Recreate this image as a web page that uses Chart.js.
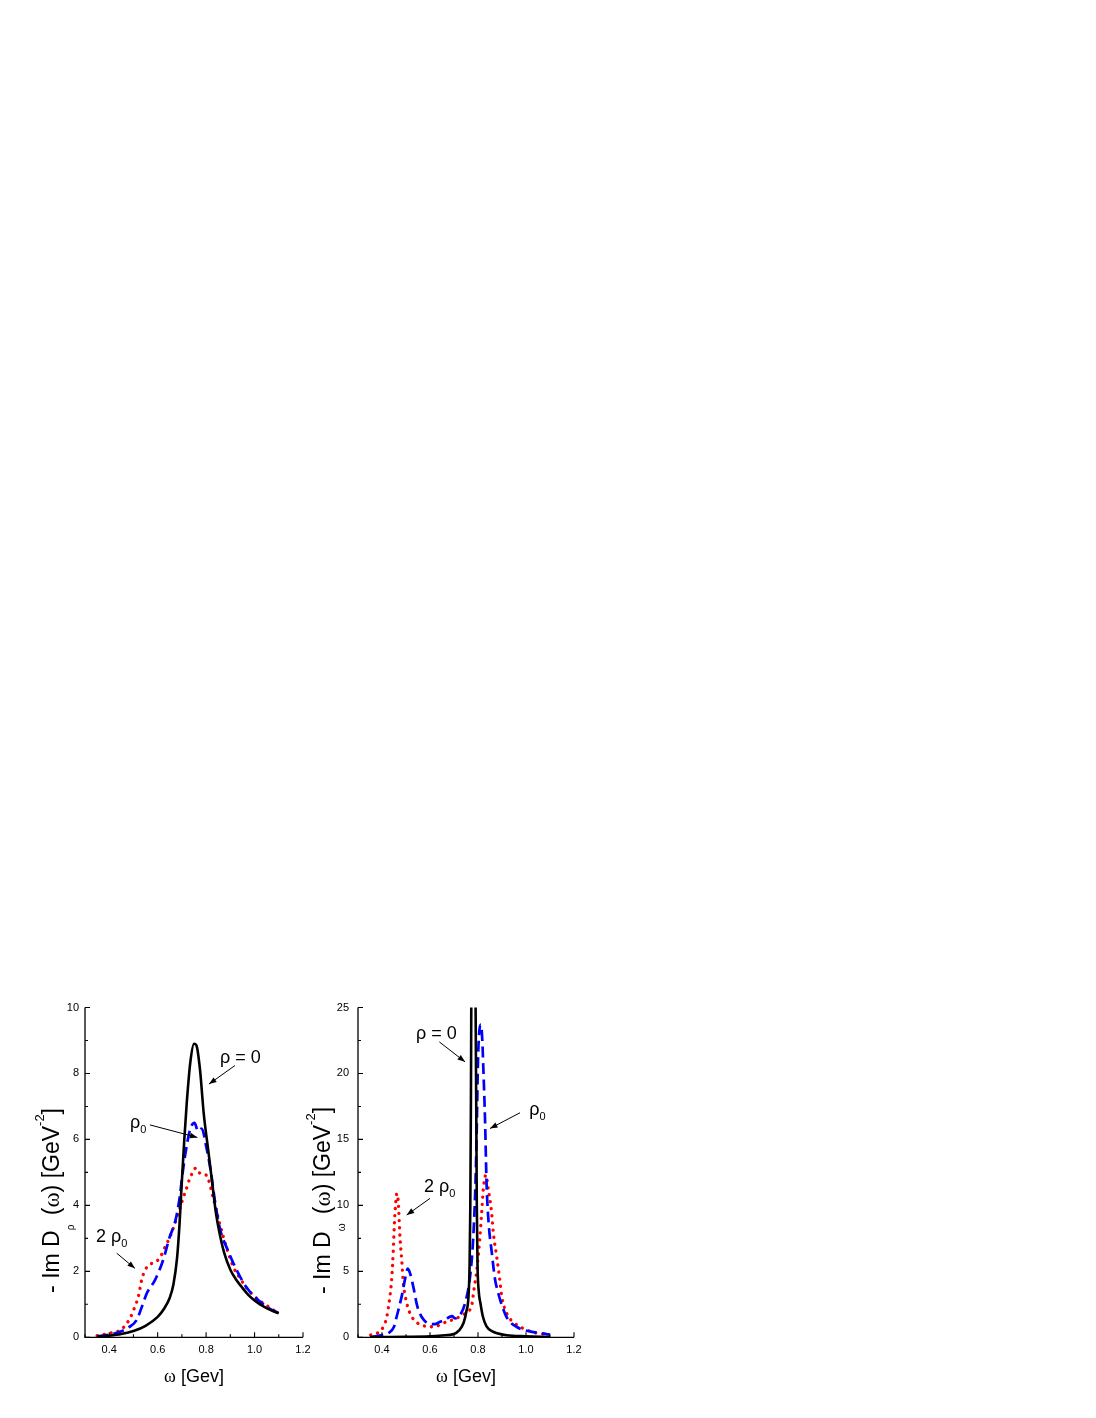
<!DOCTYPE html>
<html><head><meta charset="utf-8">
<script src="https://cdn.jsdelivr.net/npm/chart.js@4.4.1/dist/chart.umd.min.js"></script>
<style>
html,body{margin:0;padding:0;background:#fff;}
body{width:1096px;height:1418px;position:relative;overflow:hidden;}
.panel{position:absolute;}
</style></head><body>
<div class="panel" style="left:0px;top:980px;width:320px;height:430px"><canvas id="c1"></canvas></div>
<div class="panel" style="left:290px;top:980px;width:310px;height:430px"><canvas id="c2"></canvas></div>
<script>
// ---------- tick values ----------
const X_TICKS = [0.4, 0.6, 0.8, 1.0, 1.2];
const X_MINOR = [0.3, 0.5, 0.7, 0.9, 1.1];
const L_Y_TICKS = [0, 2, 4, 6, 8, 10];
const L_Y_MINOR = [1, 3, 5, 7, 9];
const R_Y_TICKS = [0, 5, 10, 15, 20, 25];
const R_Y_MINOR = [2.5, 7.5, 12.5, 17.5, 22.5];

// ---------- left panel: -Im D_rho ----------
const L_vac_w = [0.35,0.40,0.45,0.50,0.55,0.60,0.625,0.65,0.665,0.68,0.69,0.70,0.71,0.72,0.735,0.75,0.76,0.775,0.79,0.81,0.825,0.84,0.857,0.875,0.90,0.925,0.95,0.975,1.00,1.04,1.08,1.10];
const L_vac_v = [0.02,0.05,0.10,0.19,0.35,0.62,0.85,1.2,1.6,2.4,3.4,4.75,6.0,7.1,8.35,8.9,8.85,8.1,6.8,5.6,4.7,3.8,3.1,2.55,2.05,1.74,1.5,1.28,1.12,0.92,0.78,0.73];

const L_rho0_w = [0.35,0.40,0.445,0.48,0.513,0.535,0.555,0.59,0.623,0.65,0.672,0.692,0.70,0.713,0.734,0.752,0.767,0.782,0.80,0.82,0.835,0.857,0.892,0.926,0.968,1.023,1.06,1.10];
const L_rho0_v = [0.03,0.08,0.17,0.3,0.52,0.93,1.33,1.75,2.35,3.05,3.5,4.3,4.8,5.5,6.3,6.5,6.25,6.33,5.8,5.0,4.2,3.3,2.6,2.04,1.5,1.08,0.88,0.74];

const L_2rho0_w = [0.35,0.40,0.45,0.486,0.506,0.52,0.534,0.548,0.565,0.607,0.63,0.654,0.685,0.70,0.717,0.733,0.758,0.778,0.80,0.83,0.85,0.871,0.892,0.912,0.94,0.968,1.009,1.057,1.10];
const L_2rho0_v = [0.05,0.12,0.24,0.58,0.93,1.23,1.74,2.04,2.19,2.39,2.73,3.1,3.76,4.11,4.47,4.82,5.13,4.95,4.92,4.21,3.61,3.05,2.55,2.14,1.79,1.49,1.18,0.93,0.72];

// ---------- right panel: -Im D_omega ----------
const R_vac_w = [0.35,0.40,0.50,0.60,0.65,0.70,0.72,0.74,0.752,0.76,0.765,0.768,0.7705,0.772,0.776,0.781,0.786,0.790,0.7925,0.795,0.798,0.803,0.81,0.82,0.835,0.86,0.88,0.92,1.00,1.10];
const R_vac_v = [0.01,0.02,0.04,0.08,0.14,0.25,0.5,1.1,2.0,3.0,5.5,10,18,25,38,45,38,25,18,10,5.5,3.5,2.6,1.6,0.85,0.45,0.3,0.15,0.08,0.03];

const R_rho0_w = [0.36,0.40,0.426,0.45,0.461,0.482,0.497,0.507,0.517,0.532,0.545,0.558,0.575,0.593,0.62,0.642,0.665,0.683,0.692,0.704,0.725,0.746,0.767,0.78,0.79,0.795,0.80,0.806,0.812,0.818,0.822,0.829,0.836,0.845,0.857,0.87,0.885,0.90,0.92,0.96,1.02,1.085,1.10];
const R_rho0_v = [0.03,0.17,0.3,0.8,1.56,3.1,4.5,5.2,4.85,3.7,2.5,1.8,1.3,1.06,1.0,1.18,1.35,1.56,1.6,1.44,1.69,2.58,4.6,7.5,12,16,21,23.3,23.7,22.5,20.5,16.7,11.5,8.5,6.5,4.5,3.3,2.4,1.5,0.8,0.43,0.25,0.2];

const R_2rho0_w = [0.353,0.399,0.42,0.433,0.44,0.447,0.451,0.458,0.462,0.468,0.475,0.482,0.489,0.503,0.524,0.565,0.614,0.67,0.711,0.746,0.774,0.783,0.795,0.808,0.815,0.822,0.833,0.843,0.857,0.864,0.878,0.889,0.899,0.92,0.954,1.003,1.051,1.093];
const R_2rho0_v = [0.17,0.6,1.56,3.1,4.34,6.6,8.4,10.4,10.9,10.2,7.6,5.9,4.1,2.6,1.56,0.93,0.8,1.18,1.44,1.82,2.45,3.6,5.1,7.6,9.4,11.2,12.3,11.2,9.4,7.9,6.1,4.6,3.1,1.8,1.06,0.55,0.3,0.23];

const SANS = "'Liberation Sans', Arial, sans-serif";
const SERIF = "'Liberation Serif', 'Times New Roman', serif";

function pts(w, v) { return w.map((x, i) => ({x: x, y: v[i]})); }

function drawRich(ctx, parts, x, y) {
  let cx = x;
  parts.forEach(p => {
    ctx.font = (p.size) + 'px ' + (p.serif ? SERIF : SANS);
    ctx.fillText(p.t, cx, y + (p.dy || 0));
    cx += ctx.measureText(p.t).width + (p.gap || 0);
  });
}
function richWidth(ctx, parts) {
  let w = 0;
  parts.forEach(p => { ctx.font = (p.size) + 'px ' + (p.serif ? SERIF : SANS); w += ctx.measureText(p.t).width + (p.gap || 0); });
  return w;
}
function arrow(ctx, x1, y1, x2, y2) {
  ctx.beginPath(); ctx.lineWidth = 1; ctx.moveTo(x1, y1); ctx.lineTo(x2, y2); ctx.stroke();
  const ang = Math.atan2(y2 - y1, x2 - x1), L = 7.5, H = 2.8;
  ctx.beginPath();
  ctx.moveTo(x2, y2);
  ctx.lineTo(x2 - L * Math.cos(ang) + H * Math.sin(ang), y2 - L * Math.sin(ang) - H * Math.cos(ang));
  ctx.lineTo(x2 - L * Math.cos(ang) - H * Math.sin(ang), y2 - L * Math.sin(ang) + H * Math.cos(ang));
  ctx.closePath(); ctx.fill();
}

const decor = {
  id: 'decor',
  afterDraw(chart, args, o) {
    const ctx = chart.ctx, a = chart.chartArea, xs = chart.scales.x, ys = chart.scales.y;
    ctx.save();
    ctx.strokeStyle = '#000'; ctx.fillStyle = '#000';
    ctx.lineWidth = 1.3;
    ctx.beginPath();
    ctx.moveTo(a.left, a.top); ctx.lineTo(a.left, a.bottom); ctx.lineTo(a.right, a.bottom);
    ctx.stroke();
    ctx.lineWidth = 1.1;
    ctx.beginPath();
    o.xMajor.forEach(v => { const p = xs.getPixelForValue(v); ctx.moveTo(p, a.bottom); ctx.lineTo(p, a.bottom - 5); });
    o.xMinor.forEach(v => { const p = xs.getPixelForValue(v); ctx.moveTo(p, a.bottom); ctx.lineTo(p, a.bottom - 3); });
    o.yMajor.forEach(v => { const p = ys.getPixelForValue(v); ctx.moveTo(a.left, p); ctx.lineTo(a.left + 5, p); });
    o.yMinor.forEach(v => { const p = ys.getPixelForValue(v); ctx.moveTo(a.left, p); ctx.lineTo(a.left + 3, p); });
    ctx.stroke();
    // annotations
    ctx.textBaseline = 'alphabetic'; ctx.textAlign = 'left';
    o.notes.forEach(n => {
      drawRich(ctx, n.parts, xs.getPixelForValue(n.x), ys.getPixelForValue(n.y));
      arrow(ctx, xs.getPixelForValue(n.from[0]), ys.getPixelForValue(n.from[1]),
                 xs.getPixelForValue(n.to[0]), ys.getPixelForValue(n.to[1]));
    });
    // y title (rotated)
    ctx.save();
    ctx.translate(a.left - o.yTitleGap, a.top + (a.bottom - a.top) * o.yTitlePos);
    ctx.rotate(-Math.PI / 2);
    const tw = richWidth(ctx, o.yTitle);
    drawRich(ctx, o.yTitle, -tw / 2, 0);
    ctx.restore();
    // x title
    const xw = richWidth(ctx, o.xTitle);
    drawRich(ctx, o.xTitle, (a.left + a.right) / 2 - xw / 2, a.bottom + 44.5);
    ctx.restore();
  }
};

function yTitleParts(sub) {
  return [
    {t: '- Im D', size: 23},
    {t: sub, size: 10, dy: 15, gap: 3},
    {t: ' (', size: 23},
    {t: 'ω', size: 23, serif: true},
    {t: ') [GeV', size: 23},
    {t: '-2', size: 13, dy: -15},
    {t: ']', size: 23}
  ];
}
const X_TITLE = [{t: 'ω', size: 18, serif: true}, {t: ' [Gev]', size: 18}];

function makeChart(id, series, yMax, yTicks, yMinor, yWidth, yPad, decorOpts) {
  const tickFont = {family: SANS, size: 11};
  return new Chart(document.getElementById(id), {
    type: 'line',
    data: {
      datasets: [
        {data: pts(series[0][0], series[0][1]), borderColor: '#000000', borderWidth: 2.6, pointRadius: 0, fill: false, cubicInterpolationMode: 'monotone'},
        {data: pts(series[1][0], series[1][1]), borderColor: '#0000ff', borderWidth: 2.7, borderDash: [11, 5.5], pointRadius: 0, fill: false, cubicInterpolationMode: 'monotone'},
        {data: pts(series[2][0], series[2][1]), borderColor: '#ff0000', borderWidth: 3.3, borderDash: [0.1, 7], borderCapStyle: 'round', pointRadius: 0, fill: false, cubicInterpolationMode: 'monotone'}
      ]
    },
    options: {
      responsive: true, maintainAspectRatio: false, animation: false, devicePixelRatio: 1,
      layout: {padding: {left: 0, right: decorOpts.padRight, top: 27.5, bottom: 12.7}},
      plugins: {legend: {display: false}, tooltip: {enabled: false}, decor: decorOpts},
      scales: {
        x: {
          type: 'linear', min: 0.3, max: 1.2,
          afterBuildTicks: s => { s.ticks = X_TICKS.map(v => ({value: v})); },
          afterFit: s => { s.height = 60; },
          grid: {display: false, drawTicks: false}, border: {display: false},
          ticks: {font: tickFont, color: '#000', padding: 6, maxRotation: 0, autoSkip: false, callback: v => v.toFixed(1)}
        },
        y: {
          type: 'linear', min: 0, max: yMax,
          afterBuildTicks: s => { s.ticks = yTicks.map(v => ({value: v})); },
          afterFit: s => { s.width = yWidth; },
          grid: {display: false, drawTicks: false}, border: {display: false},
          ticks: {font: tickFont, color: '#000', padding: yPad, autoSkip: false, callback: v => String(v)}
        }
      }
    },
    plugins: [decor]
  });
}

makeChart('c1', [[L_vac_w, L_vac_v], [L_rho0_w, L_rho0_v], [L_2rho0_w, L_2rho0_v]], 10, L_Y_TICKS, L_Y_MINOR, 85, 6, {
  padRight: 17,
  xMajor: X_TICKS, xMinor: X_MINOR, yMajor: L_Y_TICKS, yMinor: L_Y_MINOR,
  yTitle: yTitleParts('ρ'), yTitleGap: 26, yTitlePos: 0.585, xTitle: X_TITLE,
  notes: [
    {x: 0.857, y: 8.31, parts: [{t: 'ρ = 0', size: 18}], from: [0.919, 8.24], to: [0.812, 7.68]},
    {x: 0.486, y: 6.34, parts: [{t: 'ρ', size: 18}, {t: '0', size: 11, dy: 5}], from: [0.568, 6.44], to: [0.764, 6.06]},
    {x: 0.345, y: 2.90, parts: [{t: '2 ρ', size: 18}, {t: '0', size: 11, dy: 5}], from: [0.431, 2.55], to: [0.506, 2.09]}
  ]
});

makeChart('c2', [[R_vac_w, R_vac_v], [R_rho0_w, R_rho0_v], [R_2rho0_w, R_2rho0_v]], 25, R_Y_TICKS, R_Y_MINOR, 68, 9, {
  padRight: 26,
  xMajor: X_TICKS, xMinor: X_MINOR, yMajor: R_Y_TICKS, yMinor: R_Y_MINOR,
  yTitle: yTitleParts('ω'), yTitleGap: 28.5, yTitlePos: 0.585, xTitle: X_TITLE,
  notes: [
    {x: 0.542, y: 22.58, parts: [{t: 'ρ = 0', size: 18}], from: [0.639, 22.39], to: [0.746, 20.88]},
    {x: 1.014, y: 16.84, parts: [{t: 'ρ', size: 18}, {t: '0', size: 11, dy: 5}], from: [0.975, 17.02], to: [0.85, 15.83]},
    {x: 0.575, y: 11.03, parts: [{t: '2 ρ', size: 18}, {t: '0', size: 11, dy: 5}], from: [0.6, 10.53], to: [0.503, 9.27]}
  ]
});
</script>
</body></html>
